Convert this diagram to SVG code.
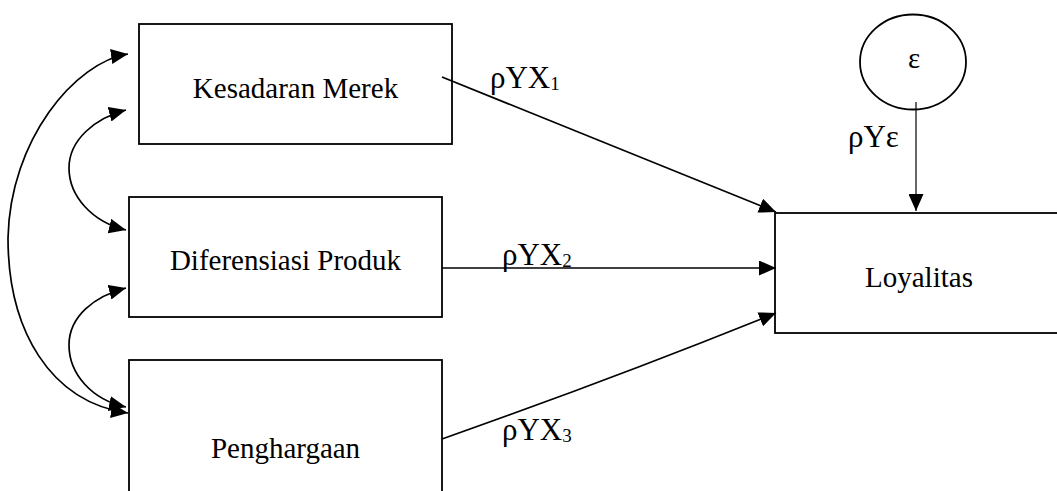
<svg xmlns="http://www.w3.org/2000/svg" width="1057" height="491" viewBox="0 0 1057 491">
<style>
.box{fill:#fff;stroke:#000;stroke-width:1.8}
.t{font-family:"Liberation Serif","Times New Roman",serif;font-size:29px;fill:#000}
.lbl{font-family:"Liberation Serif","Times New Roman",serif;font-size:31px;fill:#000}
.sub{font-size:19px}
.c{fill:none;stroke:#000;stroke-width:1.7}
.thin{fill:none;stroke:#000;stroke-width:1.2}
</style>
<defs>
<marker id="ah" markerUnits="userSpaceOnUse" markerWidth="17" markerHeight="15" viewBox="0 0 17 15" refX="17" refY="7.5" orient="auto-start-reverse">
<path d="M0,0 L17,7.5 L0,15 Z" fill="#000"/>
</marker>
</defs>
<g id="node-kesadaran">
<rect class="box" x="139" y="24" width="313" height="120"/>
<text class="t" x="295.5" y="98" text-anchor="middle">Kesadaran Merek</text>
</g>
<g id="node-diferensiasi">
<rect class="box" x="129" y="197" width="313" height="120"/>
<text class="t" x="285.5" y="270" text-anchor="middle">Diferensiasi Produk</text>
</g>
<g id="node-penghargaan">
<rect class="box" x="129" y="360" width="313" height="140"/>
<text class="t" x="285.5" y="458" text-anchor="middle">Penghargaan</text>
</g>
<g id="node-loyalitas">
<rect class="box" x="775" y="213" width="300" height="120"/>
<text class="t" x="919" y="287" text-anchor="middle">Loyalitas</text>
</g>
<g id="node-epsilon">
<ellipse class="box" cx="913" cy="62" rx="53" ry="47.5"/>
<text class="t" x="914" y="68" text-anchor="middle">ε</text>
</g>
<g id="connectors">
<path class="c" d="M128,54 C75,62 10,140 8,238 C8,330 50,402 128,413" marker-start="url(#ah)" marker-end="url(#ah)"/>
<path class="c" d="M126,110 C95,118 69,140 69,168 C69,196 92,222 126,230" marker-start="url(#ah)" marker-end="url(#ah)"/>
<path class="c" d="M126,288 C95,296 69,316 69,345 C69,374 92,400 126,407" marker-start="url(#ah)" marker-end="url(#ah)"/>
<path class="c" d="M442,77 L776,212" marker-end="url(#ah)"/>
<path class="c" d="M442,268 L776,268" marker-end="url(#ah)"/>
<path class="c" d="M442,439 Q615,378 776,313" marker-end="url(#ah)"/>
<path class="thin" d="M916,102 L916,211" marker-end="url(#ah)"/>
</g>
<g id="labels">
<text class="lbl" x="490" y="88">ρYX<tspan class="sub" dy="2">1</tspan></text>
<text class="lbl" x="502" y="265">ρYX<tspan class="sub" dy="2">2</tspan></text>
<text class="lbl" x="502" y="440">ρYX<tspan class="sub" dy="2">3</tspan></text>
<text class="lbl" x="848" y="147">ρYε</text>
</g>
</svg>
